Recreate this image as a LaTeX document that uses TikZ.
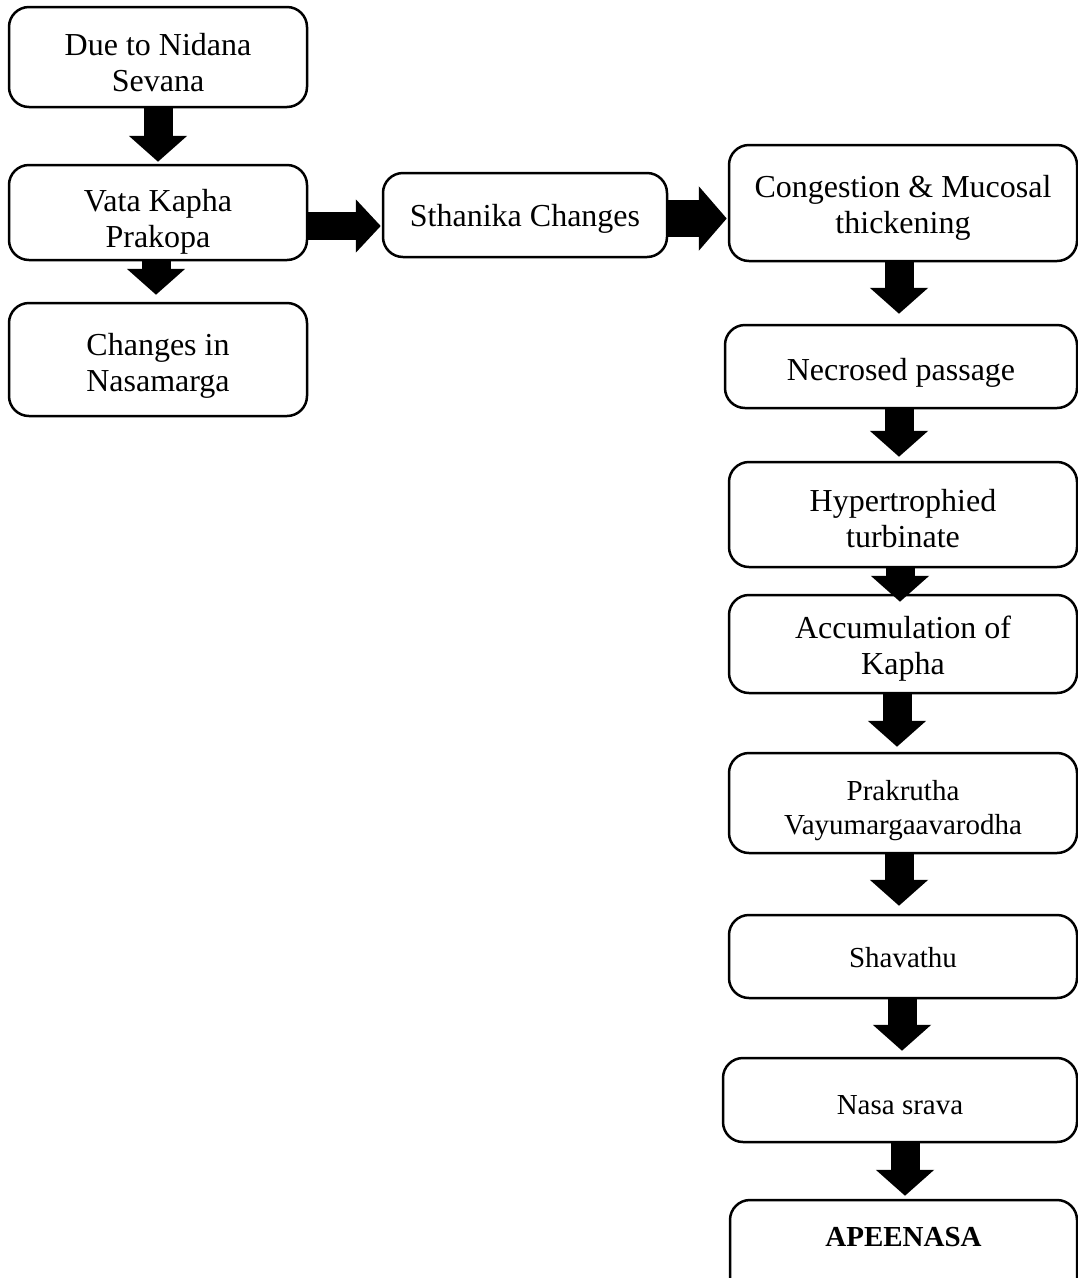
\documentclass[tikz,border=0pt]{standalone}
\usepackage{fontspec}
\setmainfont{Liberation Serif}
\usetikzlibrary{arrows.meta,calc}
\begin{document}
\begin{tikzpicture}[x=1pt,y=-1pt,
  box/.style={draw, line width=2.5pt, rounded corners=20pt, inner sep=0pt},
  tx/.style={align=center, inner sep=0pt, font=\fontsize{32}{36}\selectfont},
  txs/.style={align=center, inner sep=0pt, font=\fontsize{29}{34}\selectfont},
  blk/.style={line width=29pt, -{Triangle[length=26pt,width=57pt]}},
]
\useasboundingbox (0,0) rectangle (1078,1278);
\clip (0,0) rectangle (1078,1278);
% left column
\node[box, minimum width=298pt, minimum height=100pt] (n1) at (158,57) {};
\node[box, minimum width=298pt, minimum height=95pt] (n2) at (158,212.5) {};
\node[box, minimum width=298pt, minimum height=113pt] (n3) at (158,359.5) {};
% middle
\node[box, minimum width=284pt, minimum height=84pt] (n4) at (525,215) {};
% right column
\node[box, minimum width=348pt, minimum height=116pt] (n5) at (903,203) {};
\node[box, minimum width=352pt, minimum height=83pt] (n6) at (901,366.5) {};
\node[box, minimum width=348pt, minimum height=105pt] (n7) at (903,514.5) {};
\node[box, minimum width=348pt, minimum height=98pt] (n8) at (903,644) {};
\node[box, minimum width=348pt, minimum height=100pt] (n9) at (903,803) {};
\node[box, minimum width=348pt, minimum height=83pt] (n10) at (903,956.5) {};
\node[box, minimum width=354pt, minimum height=84pt] (n11) at (900,1100) {};
\node[box, minimum width=347pt, minimum height=110pt] (n12) at (903.5,1255) {};
% texts
\node[tx] (t1) at ($(n1.center)+(0,6)$) {Due to Nidana\\Sevana};
\node[tx] (t2) at ($(n2.center)+(0,9)$) {Vata Kapha\\Prakopa};
\node[tx] (t3) at ($(n3.center)+(0,6)$) {Changes in\\Nasamarga};
\node[tx] (t4) at ($(n4.center)+(0,4)$) {Sthanika Changes};
\node[tx] (t5) at ($(n5.center)+(0,5)$) {Congestion \& Mucosal\\thickening};
\node[tx] (t6) at ($(n6.center)+(0,6)$) {Necrosed passage};
\node[tx] (t7) at ($(n7.center)+(0,4)$) {Hypertrophied\\turbinate};
\node[tx] (t8) at ($(n8.center)+(0,5)$) {Accumulation of\\Kapha};
\node[txs] (t9) at ($(n9.center)+(0,8)$) {Prakrutha\\Vayumargaavarodha};
\node[txs] (t10) at ($(n10.center)+(0,1)$) {Shavathu};
\node[txs] (t11) at ($(n11.center)+(0,5)$) {Nasa srava};
\node[txs, font=\fontsize{29}{34}\selectfont\bfseries] (t12) at (903.5,1237) {APEENASA};
% arrows
\draw[blk, shorten >=2pt] (n1.south) -- (n2.north);
\draw[blk, shorten >=7pt] ($(n2.south)+(-2,0)$) -- ($(n3.north)+(-2,0)$);
\draw[line width=28pt, -{Triangle[length=25pt,width=52pt]}, shorten >=1pt] ($(n2.east)+(0,13.5)$) -- ($(n4.west)+(0,11)$);
\draw[line width=37pt, -{Triangle[length=28pt,width=63pt]}, shorten >=1pt] ($(n4.east)+(0,3.5)$) -- ($(n5.west)+(0,15.5)$);
\draw[blk, shorten >=10pt] ($(n5.south)+(-4,0)$) -- ($(n6.north)+(-2,0)$);
\draw[blk, shorten >=4pt] ($(n6.south)+(-2,0)$) -- ($(n7.north)+(-4,0)$);
\draw[blk, shorten >=-8pt] ($(n7.south)+(-3,0)$) -- ($(n8.north)+(-3,0)$);
\draw[blk, shorten >=5pt] ($(n8.south)+(-6,0)$) -- ($(n9.north)+(-6,0)$);
\draw[blk, shorten >=8pt] ($(n9.south)+(-4,0)$) -- ($(n10.north)+(-4,0)$);
\draw[blk, shorten >=6pt] ($(n10.south)+(-1,0)$) -- ($(n11.north)+(2,0)$);
\draw[blk, shorten >=3pt] ($(n11.south)+(5,0)$) -- ($(n12.north)+(1.5,0)$);
\end{tikzpicture}
\end{document}
